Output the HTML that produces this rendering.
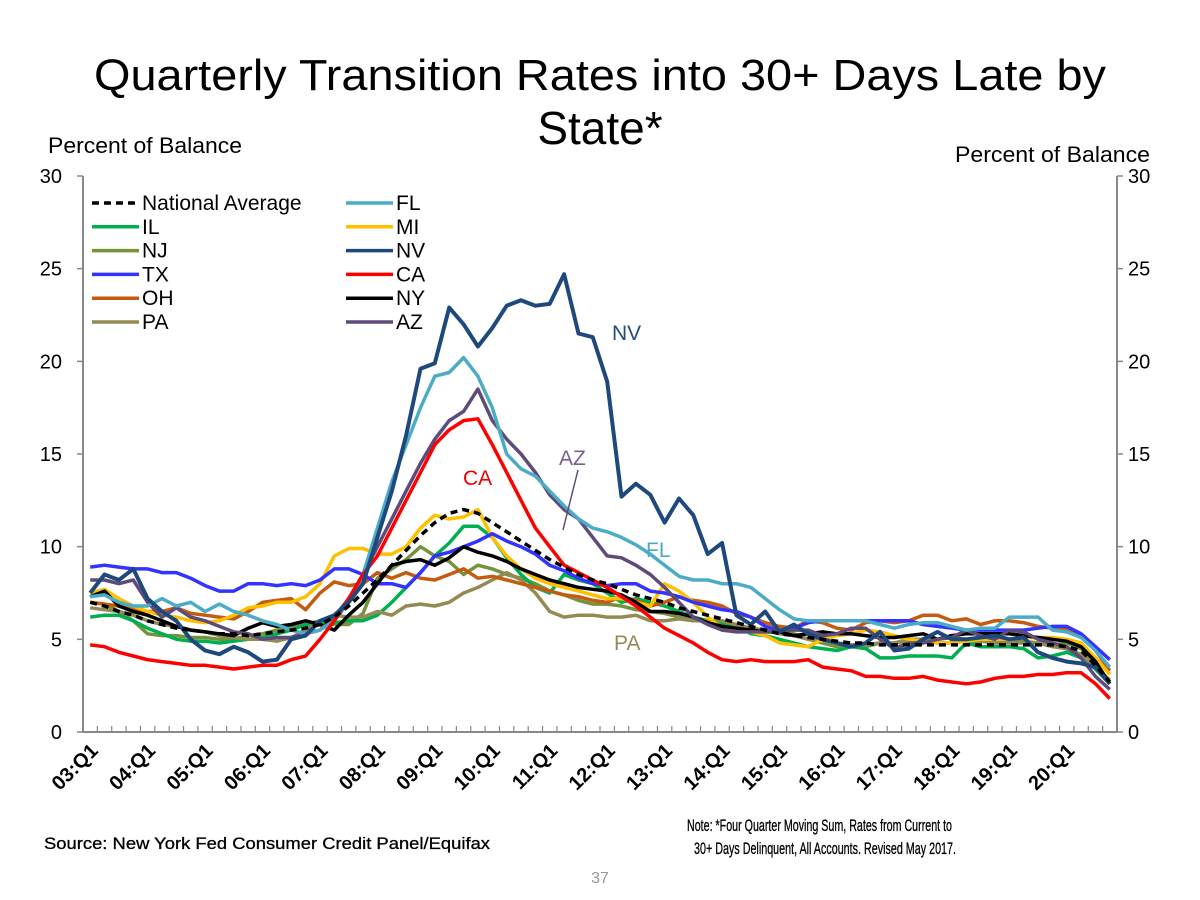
<!DOCTYPE html>
<html><head><meta charset="utf-8"><style>
body{margin:0;background:#fff;}
svg{display:block;font-family:"Liberation Sans",Arial,sans-serif;}
</style></head><body>
<svg id="chart" width="1200" height="900">
<text x="600" y="90" font-size="44" text-anchor="middle" textLength="1012" lengthAdjust="spacingAndGlyphs">Quarterly Transition Rates into 30+ Days Late by</text>
<text x="600" y="144" font-size="46" text-anchor="middle">State*</text>
<text x="48" y="153" font-size="22" textLength="194" lengthAdjust="spacingAndGlyphs">Percent of Balance</text>
<text x="1150" y="162" font-size="22" text-anchor="end" textLength="195" lengthAdjust="spacingAndGlyphs">Percent of Balance</text>
<g id="axes"></g>
<g id="series"></g>
<g id="legend"></g>
<text x="612" y="340" font-size="21" fill="#1f4e79">NV</text>
<text x="463" y="485" font-size="21" fill="#e00">CA</text>
<text x="559" y="465" font-size="21" fill="#7a5f94">AZ</text>
<line x1="578" y1="470" x2="563" y2="530" stroke="#5f4b7a" stroke-width="1.5"/>
<text x="646" y="557" font-size="21" fill="#4aaac4">FL</text>
<text x="614" y="650" font-size="21" fill="#948a54">PA</text>
<text x="44" y="849" font-size="17" stroke="#000" stroke-width="0.3" textLength="446" lengthAdjust="spacingAndGlyphs">Source: New York Fed Consumer Credit Panel/Equifax</text>
<text x="952" y="831" font-size="17" stroke="#000" stroke-width="0.3" text-anchor="end" textLength="265" lengthAdjust="spacingAndGlyphs">Note: *Four Quarter Moving Sum, Rates from Current to</text>
<text x="956" y="854" font-size="17" stroke="#000" stroke-width="0.3" text-anchor="end" textLength="262" lengthAdjust="spacingAndGlyphs">30+ Days Delinquent, All Accounts. Revised May 2017.</text>
<text x="600" y="883" font-size="16" fill="#999" text-anchor="middle">37</text>
</svg>
<script>
const yTicks=[0,5,10,15,20,25,30];
const yearLabels=["03:Q1","04:Q1","05:Q1","06:Q1","07:Q1","08:Q1","09:Q1","10:Q1","11:Q1","12:Q1","13:Q1","14:Q1","15:Q1","16:Q1","17:Q1","18:Q1","19:Q1","20:Q1"];
const seriesNames=["NJ","IL","PA","OH","MI","NY","TX","AZ","FL","CA","NV","National Average"];
const national=[7.0,6.8,6.5,6.3,6.0,5.8,5.6,5.5,5.4,5.3,5.3,5.2,5.3,5.4,5.5,5.6,5.8,6.2,6.8,7.5,8.2,9.0,9.8,10.6,11.3,11.8,12.0,11.8,11.3,10.8,10.3,9.8,9.3,8.9,8.5,8.2,8.0,7.7,7.4,7.2,7.0,6.7,6.5,6.3,6.1,5.9,5.7,5.5,5.3,5.2,5.1,5.0,4.9,4.8,4.8,4.7,4.7,4.7,4.7,4.7,4.7,4.7,4.7,4.7,4.7,4.7,4.7,4.7,4.6,4.4,3.6,2.7];
const nv=[7.5,8.5,8.2,8.8,7.2,6.5,6.0,5.0,4.4,4.2,4.6,4.3,3.8,3.9,5.0,5.2,6.0,6.3,7.0,8.0,10.5,13.0,16.0,19.6,19.9,22.9,22.0,20.8,21.8,23.0,23.3,23.0,23.1,24.7,21.5,21.3,18.9,12.7,13.4,12.8,11.3,12.6,11.7,9.6,10.2,6.3,5.8,6.5,5.4,5.8,5.3,5.0,4.8,4.6,4.8,5.4,4.4,4.5,5.0,5.4,5.0,5.0,5.1,5.2,5.0,5.1,4.3,4.0,3.8,3.7,3.5,2.6];
const fl=[7.3,7.4,7.0,6.8,6.8,7.2,6.8,7.0,6.5,6.9,6.5,6.3,6.0,5.8,5.5,5.3,5.5,6.0,7.0,8.5,11.0,13.5,15.5,17.5,19.2,19.4,20.2,19.2,17.5,15.0,14.2,13.8,13.0,12.2,11.5,11.0,10.8,10.5,10.1,9.6,9.0,8.4,8.2,8.2,8.0,8.0,7.8,7.2,6.6,6.1,6.0,6.0,6.0,6.0,6.0,5.8,5.6,5.8,5.9,5.9,5.7,5.5,5.6,5.6,6.2,6.2,6.2,5.5,5.4,5.1,4.4,3.5];
const az=[8.2,8.2,8.0,8.2,7.0,6.2,6.7,6.2,6.0,5.7,5.4,5.3,5.0,5.1,5.1,5.3,5.5,6.2,7.2,8.5,10.0,11.5,13.0,14.5,15.8,16.8,17.3,18.5,16.8,15.8,15.0,14.0,12.8,12.0,11.5,10.5,9.5,9.4,9.0,8.5,7.8,7.0,6.2,5.8,5.5,5.4,5.4,5.4,5.5,5.5,5.5,5.2,5.3,5.6,5.6,5.0,4.5,4.8,4.8,5.0,5.1,5.5,5.2,5.0,5.5,5.4,5.0,4.8,4.6,4.0,3.0,2.3];
const ca=[4.7,4.6,4.3,4.1,3.9,3.8,3.7,3.6,3.6,3.5,3.4,3.5,3.6,3.6,3.9,4.1,5.0,6.0,7.2,8.5,9.5,11.0,12.5,14.0,15.5,16.3,16.8,16.9,15.5,14.0,12.5,11.0,10.0,9.0,8.6,8.2,7.8,7.3,6.8,6.2,5.6,5.2,4.8,4.3,3.9,3.8,3.9,3.8,3.8,3.8,3.9,3.5,3.4,3.3,3.0,3.0,2.9,2.9,3.0,2.8,2.7,2.6,2.7,2.9,3.0,3.0,3.1,3.1,3.2,3.2,2.6,1.8];
const tx=[8.9,9.0,8.9,8.8,8.8,8.6,8.6,8.3,7.9,7.6,7.6,8.0,8.0,7.9,8.0,7.9,8.2,8.8,8.8,8.5,8.0,8.0,7.8,8.6,9.5,9.7,10.0,10.3,10.7,10.3,10.0,9.6,9.0,8.7,8.3,8.0,7.9,8.0,8.0,7.6,7.5,7.3,7.0,6.8,6.6,6.5,6.2,5.7,5.5,5.6,5.9,6.0,6.0,6.0,6.0,6.0,6.0,6.0,5.8,5.7,5.6,5.5,5.5,5.5,5.5,5.5,5.6,5.7,5.7,5.3,4.6,3.9];
const il=[6.2,6.3,6.3,6.0,5.6,5.3,5.0,4.9,4.9,4.8,4.9,5.0,5.1,5.3,5.5,5.8,5.9,5.9,6.0,6.0,6.3,7.0,7.8,8.6,9.5,10.2,11.1,11.1,10.5,9.4,8.5,7.8,7.5,8.5,8.2,8.0,7.5,7.0,7.2,7.0,6.8,6.5,6.2,6.0,5.8,5.8,5.3,5.2,5.0,4.8,4.6,4.5,4.4,4.6,4.5,4.0,4.0,4.1,4.1,4.1,4.0,4.8,4.6,4.6,4.6,4.5,4.0,4.1,4.3,4.0,3.4,2.6];
const mi=[7.5,7.7,7.2,6.8,6.5,6.3,6.2,6.0,5.9,6.0,6.3,6.7,6.8,7.0,7.0,7.3,8.0,9.5,9.9,9.9,9.6,9.6,10.0,11.0,11.7,11.5,11.6,12.0,10.5,9.5,8.8,8.3,8.0,7.8,7.6,7.4,7.2,7.2,7.0,6.8,8.0,7.6,7.0,6.2,5.6,5.5,5.4,5.2,4.8,4.7,4.6,5.0,5.2,5.3,5.5,5.4,5.2,5.0,4.9,4.8,4.8,4.9,5.0,5.0,5.0,5.1,5.1,5.1,5.0,4.8,4.0,3.1];
const nj=[7.0,6.9,6.5,6.0,5.3,5.2,5.2,5.1,5.1,5.0,5.0,5.2,5.3,5.5,5.7,5.8,6.0,5.8,5.8,6.4,8.3,8.8,9.3,10.0,9.5,9.2,8.5,9.0,8.8,8.5,8.3,8.0,7.6,7.4,7.1,6.9,6.9,6.8,6.6,6.5,6.4,6.2,6.0,6.0,5.9,5.8,5.6,5.5,5.4,5.3,5.0,4.8,4.6,4.7,4.6,4.8,4.8,4.9,4.9,4.8,4.8,4.9,4.9,4.8,4.8,4.9,4.8,4.7,4.8,4.5,3.6,2.7];
const oh=[7.0,6.9,6.8,6.6,6.5,6.5,6.7,6.4,6.3,6.2,6.1,6.5,7.0,7.1,7.2,6.6,7.5,8.1,7.9,8.0,8.6,8.3,8.6,8.3,8.2,8.5,8.8,8.3,8.4,8.2,8.0,7.8,7.6,7.4,7.3,7.1,7.0,7.3,7.1,6.8,7.0,7.3,7.1,7.0,6.8,6.4,6.2,5.9,5.7,5.6,6.0,5.9,5.6,5.5,5.9,6.0,5.9,6.0,6.3,6.3,6.0,6.1,5.8,6.0,6.0,5.9,5.7,5.6,5.6,5.2,4.4,3.3];
const ny=[7.3,7.6,6.8,6.5,6.3,6.0,5.7,5.5,5.4,5.3,5.2,5.6,5.9,5.7,5.8,6.0,5.8,5.5,6.3,7.0,8.0,9.0,9.2,9.3,9.0,9.4,10.0,9.7,9.5,9.2,8.8,8.5,8.2,8.0,7.8,7.7,7.6,7.4,7.0,6.5,6.5,6.4,6.2,5.9,5.7,5.6,5.5,5.4,5.4,5.2,5.3,5.4,5.3,5.3,5.2,5.1,5.1,5.2,5.3,5.0,5.2,5.3,5.3,5.3,5.3,5.2,5.1,5.0,4.9,4.6,3.8,2.6];
const pa=[6.7,6.6,6.5,6.3,6.0,5.8,5.7,5.5,5.4,5.2,5.1,5.0,5.0,4.9,5.1,5.5,6.0,6.3,6.2,6.2,6.5,6.3,6.8,6.9,6.8,7.0,7.5,7.8,8.2,8.6,8.2,7.5,6.5,6.2,6.3,6.3,6.2,6.2,6.3,6.0,6.0,6.1,6.0,6.0,6.0,5.8,5.6,5.5,5.3,5.2,5.0,4.9,4.8,4.7,4.7,4.8,4.8,5.0,5.0,5.0,5.1,5.0,4.9,4.9,4.8,4.8,4.8,4.6,4.5,4.2,3.5,2.8];

const NS="http://www.w3.org/2000/svg";
const L=83,R=1117,T=176,B=732,N=72,YMAX=30;
function xs(i){return L+(R-L)/N*(i+0.5);}
function ys(v){return B-(B-T)*v/YMAX;}
function mk(tag,attrs,parent){const e=document.createElementNS(NS,tag);for(const k in attrs)e.setAttribute(k,attrs[k]);parent.appendChild(e);return e;}
const axes=document.getElementById('axes');
let e;
e=mk('path',{d:`M${L},${T}V${B}H${R}V${T}`,fill:'none',stroke:'#888','stroke-width':2},axes);


yTicks.forEach(v=>{
  e=mk('text',{x:62,y:ys(v)+7,'font-size':20,'text-anchor':'end'},axes);e.textContent=v;
  
  
  e=mk('text',{x:1128,y:ys(v)+7,'font-size':20},axes);e.textContent=v;
  
  
  mk('line',{x1:L-6,x2:L,y1:ys(v),y2:ys(v),stroke:'#888','stroke-width':1.5},axes);
  mk('line',{x1:R,x2:R+6,y1:ys(v),y2:ys(v),stroke:'#888','stroke-width':1.5},axes);
});
for(let i=0;i<=N;i++){const x=L+(R-L)/N*i;mk('line',{x1:x,x2:x,y1:B,y2:B-6,stroke:'#888','stroke-width':1.2},axes);}
yearLabels.forEach((lab,k)=>{
  const x=xs(k*4)-1,y=B+10;
  e=mk('text',{x:x,y:y,'font-size':20,'font-weight':'bold','text-anchor':'end',transform:`rotate(-45 ${x} ${y})`,dy:'0.7em'},axes);e.textContent=lab;
  
  
});
const defs=[
 [nj,'#76923c','NJ'],[il,'#00b050','IL'],[pa,'#948a54','PA'],[oh,'#c55a11','OH'],[mi,'#ffc000','MI'],
 [tx,'#3333ff','TX'],[ny,'#000','NY'],[az,'#5f4b7a','AZ'],[fl,'#4bacc6','FL'],[ca,'#ff0000','CA'],[nv,'#1f497d','NV'],[national,'#000','National Average']
];
const sg=document.getElementById('series');
defs.forEach(([vals,col,name])=>{
  const d=vals.map((v,i)=>(i?'L':'M')+xs(i).toFixed(1)+','+ys(v).toFixed(1)).join('');
  const p=mk('path',{d:d,fill:'none',stroke:col,'stroke-width':name==='NV'?4:3.5,'stroke-linejoin':'round'},sg);
  if(name==='National Average')p.setAttribute('stroke-dasharray','7,5');
  
  
});
const leg=[['National Average','#000',true],['IL','#00b050'],['NJ','#76923c'],['TX','#3333ff'],['OH','#c55a11'],['PA','#948a54'],
 ['FL','#4bacc6'],['MI','#ffc000'],['NV','#1f497d'],['CA','#ff0000'],['NY','#000'],['AZ','#5f4b7a']];
const lg=document.getElementById('legend');
leg.forEach((it,k)=>{
  const col=k<6?0:1,row=k%6;
  const x0=col?346:92,y=203+row*23.8;
  const g=mk('g',{},lg);
  
  
  const ln=mk('line',{x1:x0,x2:x0+47,y1:y,y2:y,stroke:it[1],'stroke-width':3.5},g);
  if(it[2])ln.setAttribute('stroke-dasharray','7,5');
  const t=mk('text',{x:x0+50,y:y+7,'font-size':21},g);t.textContent=it[0];
});
</script>
</body></html>
